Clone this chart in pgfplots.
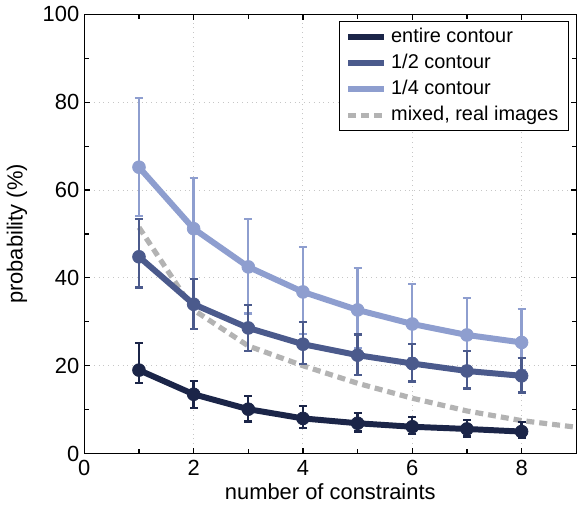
\documentclass[border=0pt]{standalone}
\usepackage{fontspec}
\setmainfont{Liberation Sans}
\usepackage{pgfplots}
\pgfplotsset{compat=1.18}

\definecolor{entire}{HTML}{1B2548}
\definecolor{half}{HTML}{4B5A8C}
\definecolor{quarter}{HTML}{8E9ECF}
\definecolor{mixed}{HTML}{B3B3B3}

\begin{document}
\begin{tikzpicture}
  \begin{axis}[
    scale only axis,
    width=247pt,
    height=220.5pt,
    xmin=0, xmax=9,
    ymin=0, ymax=100,
    xtick={0,2,4,6,8},
    minor xtick={1,3,5,7},
    ytick={0,20,40,60,80,100},
    minor ytick={10,30,50,70,90},
    tick align=inside,
    major tick length=2.6pt,
    minor tick length=2.2pt,
    every tick/.style={black,line width=0.6pt},
    axis line style={line width=0.75pt},
    grid=major,
    major grid style={gray!45,dotted,line width=0.5pt},
    xlabel={number of constraints},
    ylabel={probability (\%)},
    label style={font=\fontsize{11}{13}\selectfont},
    tick label style={font=\fontsize{11}{13}\selectfont},
    yticklabel style={xshift=1pt},
    /pgf/number format/assume math mode=true,
    xlabel style={yshift=3pt},
    ylabel style={yshift=1pt},
    legend style={at={(0.985,0.985)},anchor=north east,
      font=\fontsize{10}{12}\selectfont,draw=black,line width=0.6pt,
      row sep=0.3pt,inner xsep=3pt,inner ysep=1.5pt},
    legend cell align=left,
    legend image code/.code={\draw[#1] (0pt,0pt) -- (18pt,0pt);},
    error bars/y dir=both,
    error bars/y explicit,
    error bars/error mark options={rotate=90,mark size=2pt,line width=1.1pt},
  ]
    % mixed, real images (drawn first, underneath)
    \addplot[mixed,line width=2.6pt,dash pattern=on 4pt off 2.5pt,forget plot] coordinates {
      (1,51.5) (2,32.7) (3,24.5) (4,20.0) (5,16.0) (6,12.6) (7,9.7) (8,7.5) (9,6.0)
    };
    \addplot[quarter,line width=3pt,mark=*,mark size=3.2pt,mark options={line width=0.4pt},
      error bars/error bar style={quarter,line width=1.2pt},forget plot] coordinates {
      (1,65.2) += (0,15.7) -= (0,11.2)
      (2,51.2) += (0,11.6) -= (0,11.5)
      (3,42.5) += (0,11.0) -= (0,10.6)
      (4,36.8) += (0,10.2) -= (0,9.5)
      (5,32.7) += (0,9.6) -= (0,8.6)
      (6,29.5) += (0,9.1) -= (0,7.7)
      (7,27.0) += (0,8.5) -= (0,7.0)
      (8,25.3) += (0,7.7) -= (0,6.3)
    };
    \addplot[half,line width=3pt,mark=*,mark size=3.2pt,mark options={line width=0.4pt},
      error bars/error bar style={half,line width=1.2pt},forget plot] coordinates {
      (1,44.8) += (0,8.6) -= (0,7.0)
      (2,34.0) += (0,5.7) -= (0,5.7)
      (3,28.6) += (0,5.3) -= (0,5.2)
      (4,24.9) += (0,5.0) -= (0,4.5)
      (5,22.4) += (0,4.7) -= (0,4.5)
      (6,20.5) += (0,4.4) -= (0,4.1)
      (7,18.8) += (0,4.5) -= (0,4.0)
      (8,17.7) += (0,4.0) -= (0,3.8)
    };
    \addplot[entire,line width=3pt,mark=*,mark size=3.2pt,mark options={line width=0.4pt},
      error bars/error bar style={entire,line width=1.2pt},forget plot] coordinates {
      (1,19.0) += (0,6.1) -= (0,3.0)
      (2,13.5) += (0,3.0) -= (0,3.2)
      (3,10.1) += (0,3.0) -= (0,2.8)
      (4,8.0) += (0,2.8) -= (0,2.2)
      (5,6.9) += (0,2.4) -= (0,1.9)
      (6,6.1) += (0,2.3) -= (0,1.7)
      (7,5.6) += (0,2.0) -= (0,1.7)
      (8,5.0) += (0,2.1) -= (0,1.4)
    };
    \addlegendimage{entire,line width=3pt}
    \addlegendentry{entire contour}
    \addlegendimage{half,line width=3pt}
    \addlegendentry{1/2 contour}
    \addlegendimage{quarter,line width=3pt}
    \addlegendentry{1/4 contour}
    \addlegendimage{mixed,line width=2.6pt,dash pattern=on 4pt off 2.5pt}
    \addlegendentry{mixed, real images}
  \end{axis}
\end{tikzpicture}
\end{document}
